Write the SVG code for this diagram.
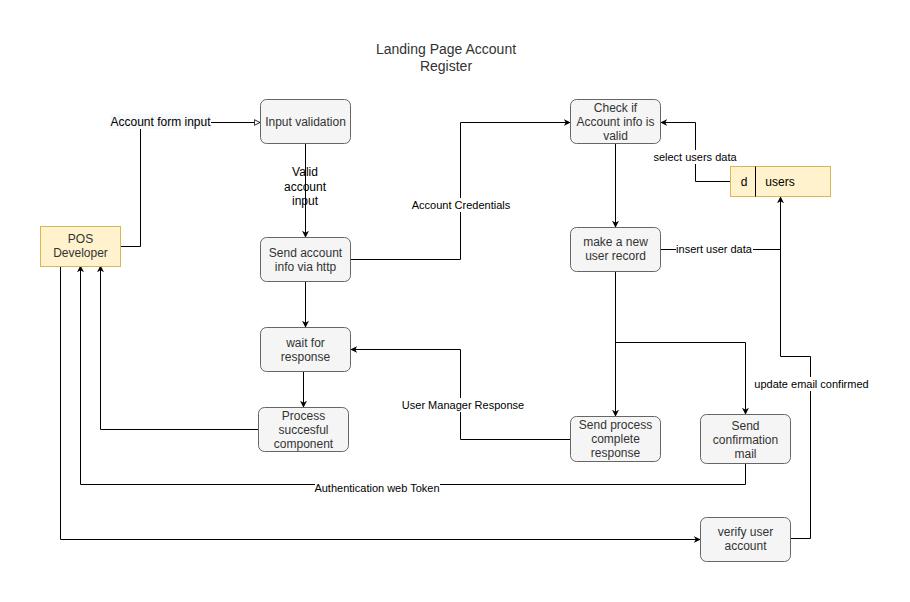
<svg xmlns="http://www.w3.org/2000/svg" width="910" height="602" viewBox="0 0 910 602">
<defs>
<marker id="arr" viewBox="0 0 10 10" refX="9" refY="5" markerWidth="7" markerHeight="7" markerUnits="userSpaceOnUse" orient="auto">
<path d="M0,0 L10,5 L0,10 L3,5 Z" fill="#000"/>
</marker>
<marker id="open" viewBox="0 0 10 10" refX="9" refY="5" markerWidth="7" markerHeight="7" markerUnits="userSpaceOnUse" orient="auto">
<path d="M1,1 L9,5 L1,9 Z" fill="#fff" stroke="#000" stroke-width="1.2"/>
</marker>
</defs>
<style>
.proc{fill:#f5f5f5;stroke:#666666;stroke-width:1}
.ent{fill:#fff2cc;stroke:#d6b656;stroke-width:1}
.t{font-family:"Liberation Sans",Arial,sans-serif;font-size:12px;fill:#333333;text-anchor:middle}
.lab{font-family:"Liberation Sans",Arial,sans-serif;font-size:11px;fill:#000;text-anchor:middle}
.lab12{font-family:"Liberation Sans",Arial,sans-serif;font-size:12px;fill:#000;text-anchor:middle}
.e{fill:none;stroke:#000;stroke-width:1}
.bg{fill:#fff}
</style>
<rect width="910" height="602" fill="#fff"/>
<g id="title">
<text class="t" x="446" y="54" style="font-size:14px">Landing Page Account</text>
<text class="t" x="446" y="71" style="font-size:14px">Register</text>
</g>
<g id="connectors">
<path class="e" d="M120.5,246.5 H140.5 V122.5 H260" marker-end="url(#open)"/>
<path class="e" d="M305.5,143 V237" marker-end="url(#arr)"/>
<path class="e" d="M350.5,259.5 H460.5 V122.5 H570" marker-end="url(#arr)"/>
<path class="e" d="M730,181.5 H695.5 V122.5 H661" marker-end="url(#arr)"/>
<path class="e" d="M615.5,143 V227" marker-end="url(#arr)"/>
<path class="e" d="M660.5,249.5 H780.5"/>
<path class="e" d="M790.5,538.5 H810.5 V356.5 H780.5 V197" marker-end="url(#arr)"/>
<path class="e" d="M305.5,281 V327" marker-end="url(#arr)"/>
<path class="e" d="M303.5,371 V407" marker-end="url(#arr)"/>
<path class="e" d="M258,429.5 H100.5 V266" marker-end="url(#arr)"/>
<path class="e" d="M745.5,464 V484.5 H80.5 V266" marker-end="url(#arr)"/>
<path class="e" d="M60.5,266 V539.5 H700" marker-end="url(#arr)"/>
<path class="e" d="M570,439.5 H460.5 V349.5 H351" marker-end="url(#arr)"/>
<path class="e" d="M615.5,271 V416" marker-end="url(#arr)"/>
<path class="e" d="M615.5,342.5 H745.5 V414" marker-end="url(#arr)"/>
<rect x="110" y="114" width="101" height="15" fill="#f8f9fa"/>
<text class="lab12" x="160.5" y="126">Account form input</text>
<rect x="285" y="164" width="40" height="43" class="bg" opacity="0"/>
<text class="lab12" x="305" y="176">Valid</text>
<text class="lab12" x="305" y="191">account</text>
<text class="lab12" x="305" y="205">input</text>
<rect x="412" y="198" width="99" height="14" class="bg"/>
<text class="lab" x="461" y="209">Account Credentials</text>
<rect x="652" y="150" width="86" height="14" class="bg"/>
<text class="lab" x="695" y="160.5">select users data</text>
<rect x="676" y="242" width="77" height="14" class="bg"/>
<text class="lab" x="714" y="253">insert user data</text>
<rect x="754" y="377" width="114" height="14" class="bg"/>
<text class="lab" x="811.5" y="387.5">update email confirmed</text>
<rect x="402" y="398" width="122" height="14" class="bg"/>
<text class="lab" x="463" y="409">User Manager Response</text>
<rect x="315" y="481" width="125" height="14" class="bg"/>
<text class="lab" x="377" y="491.5">Authentication web Token</text>
</g>
<g id="pos">
<rect class="ent" x="40.5" y="226.5" width="80" height="40"/>
<text class="t" x="80.5" y="243">POS</text>
<text class="t" x="80.5" y="257">Developer</text>
</g>
<g id="input-validation">
<rect class="proc" x="260.5" y="99.5" width="90" height="44" rx="6"/>
<text class="t" x="305.5" y="126">Input validation</text>
</g>
<g id="send-account">
<rect class="proc" x="260.5" y="237.5" width="90" height="44" rx="6"/>
<text class="t" x="305.5" y="257">Send account</text>
<text class="t" x="305.5" y="271">info via http</text>
</g>
<g id="wait-response">
<rect class="proc" x="260.5" y="327.5" width="90" height="44" rx="6"/>
<text class="t" x="305.5" y="347">wait for</text>
<text class="t" x="305.5" y="361">response</text>
</g>
<g id="process-successful">
<rect class="proc" x="258.5" y="407.5" width="90" height="44" rx="6"/>
<text class="t" x="303.5" y="420">Process</text>
<text class="t" x="303.5" y="434">succesful</text>
<text class="t" x="303.5" y="448">component</text>
</g>
<g id="check-account">
<rect class="proc" x="570.5" y="99.5" width="90" height="44" rx="6"/>
<text class="t" x="615.5" y="112">Check if</text>
<text class="t" x="615.5" y="126">Account info is</text>
<text class="t" x="615.5" y="140">valid</text>
</g>
<g id="users">
<rect class="ent" x="730.5" y="166.5" width="100" height="30"/>
<line x1="755.5" y1="166.5" x2="755.5" y2="196.5" stroke="#000" stroke-width="1"/>
<text class="t" x="744" y="186" style="fill:#000">d</text>
<text class="t" x="780" y="186" style="fill:#000">users</text>
</g>
<g id="make-record">
<rect class="proc" x="570.5" y="227.5" width="90" height="44" rx="6"/>
<text class="t" x="615.5" y="246">make a new</text>
<text class="t" x="615.5" y="260">user record</text>
</g>
<g id="send-process-complete">
<rect class="proc" x="570.5" y="416.5" width="90" height="45" rx="6"/>
<text class="t" x="615.5" y="429">Send process</text>
<text class="t" x="615.5" y="443">complete</text>
<text class="t" x="615.5" y="457">response</text>
</g>
<g id="send-confirmation">
<rect class="proc" x="700.5" y="414.5" width="90" height="49" rx="6"/>
<text class="t" x="745.5" y="430">Send</text>
<text class="t" x="745.5" y="444">confirmation</text>
<text class="t" x="745.5" y="458">mail</text>
</g>
<g id="verify-account">
<rect class="proc" x="700.5" y="517.5" width="90" height="44" rx="6"/>
<text class="t" x="745.5" y="536">verify user</text>
<text class="t" x="745.5" y="550">account</text>
</g>
</svg>
